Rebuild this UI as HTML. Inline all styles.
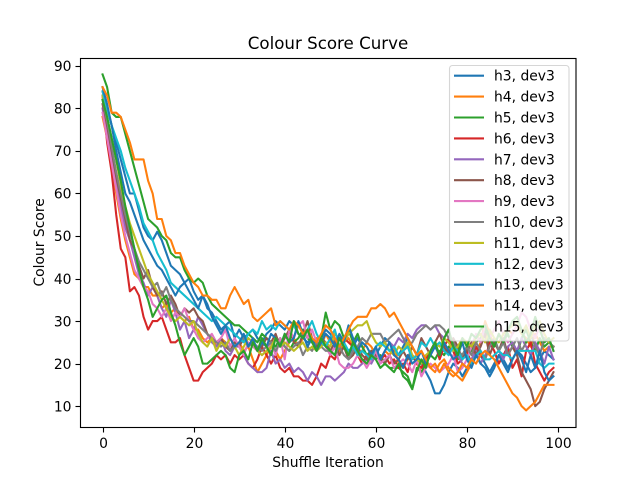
<!DOCTYPE html>
<html>
<head>
<meta charset="utf-8">
<title>Colour Score Curve</title>
<style>
html,body{margin:0;padding:0;background:#fff;width:640px;height:480px;overflow:hidden}
svg{display:block}
text{font-family:"DejaVu Sans","Liberation Sans",sans-serif;fill:#000}
</style>
</head>
<body>
<svg id="chart" xmlns="http://www.w3.org/2000/svg" width="640" height="480" viewBox="0 0 640 480">
  <rect x="80" y="57.6" width="496" height="369.6" fill="#fff"/>
  <g id="series"></g>
  <g id="ticks"></g>
  <rect x="80.5" y="58.5" width="495.5" height="369" fill="none" stroke="#000" stroke-width="1.11"/>
  <text x="328" y="49" font-size="16.67" text-anchor="middle">Colour Score Curve</text>
  <text x="328" y="467" font-size="13.89" text-anchor="middle">Shuffle Iteration</text>
  <text x="0" y="0" font-size="13.89" text-anchor="middle" transform="translate(44 242.4) rotate(-90)">Colour Score</text>
  <rect x="449.5" y="65.5" width="119.5" height="275.5" rx="3" ry="3" fill="#fff" fill-opacity="0.8" stroke="#ccc" stroke-opacity="0.8" stroke-width="1.11"/>
  <g id="legend"></g>
</svg>
<script>
var xTicks = [0, 20, 40, 60, 80, 100];
var yTicks = [10, 20, 30, 40, 50, 60, 70, 80, 90];
var seriesNames = ["h3, dev3","h4, dev3","h5, dev3","h6, dev3","h7, dev3","h8, dev3","h9, dev3","h10, dev3","h11, dev3","h12, dev3","h13, dev3","h14, dev3","h15, dev3"];
var seriesColors = ["#1f77b4","#ff7f0e","#2ca02c","#d62728","#9467bd","#8c564b","#e377c2","#7f7f7f","#bcbd22","#17becf","#1f77b4","#ff7f0e","#2ca02c"];
var h3 = [84,80,76,72,68,64,60,60,56,52,50,49,51,49,46,43,42,41,39,40,37,35,36,33,32,30,28,29,30,26,28,26,27,28,26,25,27,28,30,29,28,30,29,27,26,25,26,24,26,28,27,25,23,24,22,24,26,24,22,21,22,24,26,25,23,22,24,26,24,22,20,18,16,13,13,15,18,20,19,17,19,21,23,22,20,18,20,22,21,19,21,23,22,20,18,19,21,23,22,21];
var h4 = [78,73,66,60,54,49,45,41,40,38,38,36,36,33,34,32,33,31,30,31,28,28,26,25,26,24,26,25,23,24,25,23,24,21,18,20,22,24,23,21,23,25,26,24,26,28,25,26,24,27,25,26,23,25,26,24,22,23,25,24,22,21,23,22,24,20,19,21,22,20,18,20,19,18,20,21,19,18,17,16,18,20,22,25,30,27,24,27,25,28,27,29,27,26,24,27,25,23,24,24];
var h5 = [88,85,79,78,78,74,70,66,62,58,54,53,52,50,49,46,45,45,42,40,39,40,39,36,34,33,32,31,30,29,29,28,27,26,25,27,26,25,24,26,24,23,25,26,28,26,25,24,26,32,28,30,29,26,28,25,27,24,22,23,21,22,20,19,19,19,18,17,14,19,18,20,22,21,23,22,24,23,21,22,24,23,25,26,28,24,26,23,25,27,24,22,26,28,25,23,26,24,25,24];
var h6 = [83,72,65,55,47,45,37,38,36,31,28,30,30,31,28,25,25,26,22,19,16,16,18,19,20,22,21,22,20,22,21,22,20,19,21,24,22,20,22,19,18,19,17,17,16,16,15,17,20,19,22,21,24,26,25,24,22,20,22,21,23,21,22,20,21,19,20,18,22,20,19,21,23,25,21,24,26,23,20,21,23,20,24,22,21,25,23,20,22,24,19,21,17,23,25,20,18,16,18,19];
var h7 = [80,74,68,62,57,52,49,45,41,39,36,38,36,33,31,35,32,28,30,26,28,31,29,27,25,24,26,23,22,24,24,22,20,19,18,18,19,23,20,21,19,20,18,19,18,16,18,17,15,17,17,16,17,18,20,19,19,20,21,20,22,21,23,25,24,26,25,27,26,28,29,29,28,29,27,26,28,24,22,20,19,21,23,20,22,24,26,23,21,24,25,23,26,24,22,25,23,20,24,21];
var h8 = [81,76,70,64,59,54,49,47,43,40,42,38,36,37,34,36,34,31,33,32,33,31,30,27,26,25,26,24,23,25,24,26,24,25,23,24,26,25,27,24,26,28,25,24,27,30,26,24,26,25,23,25,22,24,21,22,24,22,21,23,22,21,20,22,20,21,23,21,24,22,26,24,22,25,27,24,22,26,24,21,23,25,22,24,27,22,25,23,26,22,24,22,18,16,14,10,11,14,16,18];
var h9 = [79,73,67,61,55,50,46,42,40,38,37,34,33,31,33,30,32,31,33,30,28,26,25,26,27,25,26,28,24,26,24,22,25,24,23,22,23,25,22,26,21,28,26,29,30,26,28,25,26,24,22,24,20,19,19,20,22,21,19,21,23,20,21,22,19,20,21,20,18,21,17,19,20,19,18,19,20,22,18,19,21,24,27,25,29,26,28,30,27,25,27,29,32,31,28,26,29,25,26,23];
var h10 = [82,77,71,65,60,55,51,47,44,42,40,38,39,36,38,35,33,32,31,30,30,29,28,27,26,25,24,25,23,24,25,26,24,25,24,23,24,25,23,25,24,23,24,25,22,24,23,25,24,23,23,22,24,22,21,23,24,26,25,27,27,27,25,26,27,28,26,24,25,27,28,29,28,29,29,28,26,25,23,22,24,22,25,23,21,24,26,23,25,22,24,26,23,25,27,24,22,26,25,24];
var h11 = [83,78,73,68,62,57,53,50,47,44,41,39,37,35,33,31,30,31,30,29,30,27,25,24,26,23,25,24,26,24,22,24,26,25,23,22,23,24,26,24,25,24,23,24,25,23,24,23,24,25,24,27,26,25,27,28,29,29,30,27,25,24,25,23,22,24,23,25,22,21,20,22,23,25,24,26,25,23,24,26,25,24,26,27,25,28,26,25,27,28,29,30,27,29,26,29,30,27,25,26];
var h12 = [84,80,76,73,70,66,63,60,57,53,51,49,46,44,42,39,38,37,36,35,34,33,32,31,30,31,30,29,28,27,26,25,27,28,27,30,28,29,28,30,29,28,29,27,26,28,30,27,25,24,26,28,24,25,23,24,22,23,22,21,24,25,24,23,24,22,23,24,21,22,25,24,26,24,25,23,22,24,23,21,22,20,22,23,21,21,22,23,22,22,21,23,23,23,23,23,20,19,20,20];
var h13 = [85,81,76,70,65,60,58,55,52,49,47,45,43,42,40,38,36,38,39,37,35,33,36,34,31,29,27,29,26,24,25,27,24,26,23,25,24,27,26,24,27,25,26,30,27,24,26,23,25,27,26,24,27,25,29,26,23,25,24,22,24,21,23,25,22,21,19,22,20,21,23,20,22,24,22,25,23,21,22,25,21,19,22,20,19,17,19,22,20,18,21,23,21,18,22,19,23,18,16,17];
var h14 = [85,83,79,79,78,75,72,68,68,68,63,60,54,54,50,49,46,46,43,41,39,38,36,36,35,35,33,33,36,38,36,34,35,31,30,31,32,33,29,30,29,28,30,29,27,28,26,25,27,29,28,26,24,26,28,30,31,31,31,33,33,34,33,31,32,30,28,26,24,22,23,21,19,20,18,20,18,17,18,20,19,21,20,22,23,22,21,19,17,15,13,12,10,9,10,11,13,15,15,15];
var h15 = [82,78,73,68,63,57,52,47,42,38,35,31,33,35,36,32,29,25,22,24,26,24,20,20,21,22,23,22,19,18,22,23,21,25,23,26,24,22,26,24,27,25,30,27,26,28,25,23,26,24,23,22,26,24,22,25,23,21,20,22,21,19,20,19,18,20,17,16,14,18,21,19,23,25,22,26,28,24,22,26,24,27,26,28,29,26,24,27,25,28,30,31,28,25,27,31,28,25,26,23];
var allSeries = [h3,h4,h5,h6,h7,h8,h9,h10,h11,h12,h13,h14,h15];

var NS = "http://www.w3.org/2000/svg";
function xScale(v){ return 102.55 + v * 4.5546; }
function yScale(v){ return 427.2 - (v - 5.05) * 4.2532; }
function snap(p){ return Math.floor(p + 0.5) + 0.5; }
function make(tag, parent){
  var el = document.createElementNS(NS, tag);
  parent.appendChild(el);
  return el;
}

var seriesGroup = document.getElementById("series");
allSeries.forEach(function(values, i){
  var pts = values.map(function(v, k){ return xScale(k).toFixed(2) + "," + yScale(v).toFixed(2); }).join(" ");
  var line = make("polyline", seriesGroup);
  
  
  line.setAttribute("points", pts);
  line.setAttribute("fill", "none");
  line.setAttribute("stroke", seriesColors[i]);
  line.setAttribute("stroke-width", "2.08");
  line.setAttribute("stroke-linejoin", "round");
  line.setAttribute("stroke-linecap", "square");
});

var tickGroup = document.getElementById("ticks");
xTicks.forEach(function(t){
  var x = snap(xScale(t));
  var mark = make("line", tickGroup);
  
  
  mark.setAttribute("x1", x); mark.setAttribute("x2", x);
  mark.setAttribute("y1", 427.5); mark.setAttribute("y2", 432.5);
  mark.setAttribute("stroke", "#000"); mark.setAttribute("stroke-width", "1.11");
  var label = make("text", tickGroup);
  
  
  label.setAttribute("x", x); label.setAttribute("y", 448);
  label.setAttribute("font-size", "13.89");
  label.setAttribute("text-anchor", "middle");
  label.textContent = t;
});
yTicks.forEach(function(t){
  var y = snap(yScale(t));
  var mark = make("line", tickGroup);
  
  
  mark.setAttribute("x1", 75.5); mark.setAttribute("x2", 80.5);
  mark.setAttribute("y1", y); mark.setAttribute("y2", y);
  mark.setAttribute("stroke", "#000"); mark.setAttribute("stroke-width", "1.11");
  var label = make("text", tickGroup);
  
  
  label.setAttribute("x", 71.5); label.setAttribute("y", yScale(t) + 5.2);
  label.setAttribute("font-size", "13.89");
  label.setAttribute("text-anchor", "end");
  label.textContent = t;
});

var legendGroup = document.getElementById("legend");
seriesNames.forEach(function(name, i){
  var y = 75.7 + i * 20.9;
  var sw = make("line", legendGroup);
  
  
  sw.setAttribute("x1", 454); sw.setAttribute("x2", 484);
  sw.setAttribute("y1", y); sw.setAttribute("y2", y);
  sw.setAttribute("stroke", seriesColors[i]);
  sw.setAttribute("stroke-width", "2.08");
  var txt = make("text", legendGroup);
  
  
  txt.setAttribute("x", 494); txt.setAttribute("y", y + 5);
  txt.setAttribute("font-size", "13.89");
  txt.textContent = name;
});
</script>
</body>
</html>
